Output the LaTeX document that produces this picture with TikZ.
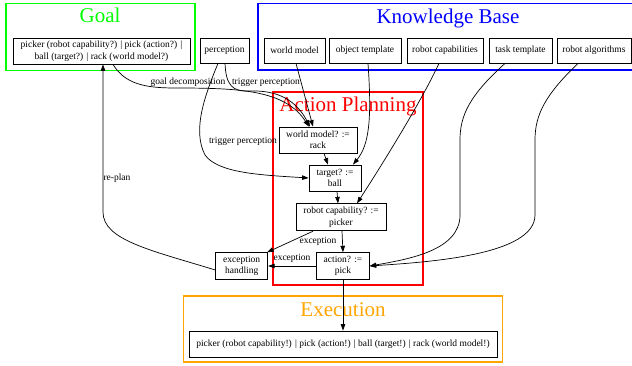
\documentclass[tikz,border=0pt]{standalone}
\usepackage{fontspec}
\setmainfont{Liberation Serif}
\usetikzlibrary{arrows.meta}

\definecolor{goalgreen}{RGB}{0,255,0}
\definecolor{kbblue}{RGB}{0,0,255}
\definecolor{apred}{RGB}{255,0,0}
\definecolor{exorange}{RGB}{255,165,0}

\tikzset{
  box/.style={draw,line width=0.8pt,inner sep=0pt,align=center,
    font=\fontsize{9.5}{11.5}\selectfont},
  lbl/.style={inner sep=0pt,anchor=base,font=\fontsize{9.5}{11.5}\selectfont},
  title/.style={inner sep=0pt,anchor=base,font=\fontsize{21}{24}\selectfont},
  cluster/.style={line width=1.5pt},
  edge/.style={line width=0.7pt,-{Triangle[length=6.5pt,width=4.5pt]}}
}

\begin{document}
\begin{tikzpicture}[x=1pt,y=-1pt]
\useasboundingbox (0,0) rectangle (632,366);

% clusters
\draw[goalgreen,cluster] (6,3.5) rectangle (195,70.5);
\node[title,text=goalgreen] (goaltitle) at (100,23) {Goal};
\draw[kbblue,cluster] (258,3.5) rectangle (635,70);
\node[title,text=kbblue] (kbtitle) at (448,23.3) {Knowledge Base};
\draw[apred,cluster] (273,92) rectangle (423,285);
\node[title,text=apred] (aptitle) at (348,111.7) {Action Planning};
\draw[exorange,cluster] (183.3,296) rectangle (502.7,362);
\node[title,text=exorange] (extitle) at (343,316.7) {Execution};

% top row
\node[box,minimum width=177,minimum height=26] (goal) at (101.5,51)
  {picker (robot capability?) | pick (action?) |\\ball (target?) | rack (world model?)};
\node[box,minimum width=49,minimum height=25] (percep) at (224.5,50.5) {perception};
\node[box,minimum width=61,minimum height=25] (wm) at (294.5,50.5) {world model};
\node[box,minimum width=72,minimum height=25] (ot) at (365,50.5) {object template};
\node[box,minimum width=76,minimum height=25] (rc) at (445,50.5) {robot capabilities};
\node[box,minimum width=63,minimum height=25] (tt) at (520.5,50.5) {task template};
\node[box,minimum width=74,minimum height=25] (ra) at (594,50.5) {robot algorithms};

% planning steps
\node[box,minimum width=78,minimum height=26] (wmq) at (318,140) {world model? :=\\rack};
\node[box,minimum width=52,minimum height=26] (tq) at (335,178) {target? :=\\ball};
\node[box,minimum width=90,minimum height=27] (rcq) at (341,217.3) {robot capability? :=\\picker};
\node[box,minimum width=52.6,minimum height=26.6] (aq) at (343,266) {action? :=\\pick};
\node[box,minimum width=52,minimum height=26.6] (eh) at (241.7,266) {exception\\handling};
\node[box,minimum width=308,minimum height=26] (exec) at (343,344)
  {picker (robot capability!) | pick (action!) | ball (target!) | rack (world model!)};

% edges into world model?
\draw[edge] ([xshift=11.5pt]goal.south) .. controls (125,84) and (145,88) .. (175,88)
  .. controls (240,88) and (285,90) .. ([xshift=-9pt]wmq.north);
\draw[edge] ([xshift=0.5pt]percep.south) .. controls (226,85) and (232,92) .. (250,91)
  .. controls (280,90) and (297,102) .. ([xshift=-8pt]wmq.north);
\draw[edge] ([xshift=1.5pt]wm.south) -- ([xshift=-5pt]wmq.north);
\node[lbl] (lgoaldec) at (188,84.5) {goal decomposition};
\node[lbl] (ltrig1) at (266,84.5) {trigger perception};

% edges into target?
\draw[edge] ([xshift=-6.5pt]percep.south) .. controls (205,95) and (192,130) .. (205,155)
  .. controls (218,173) and (260,175) .. (tq.west);
\node[lbl] (ltrig2) at (243,143.5) {trigger perception};
\draw[edge] ([xshift=3pt]ot.south) .. controls (372,120) and (369,145) .. ([xshift=18pt]tq.north);
\draw[edge] ([xshift=6pt]wmq.south) -- ([xshift=-7pt]tq.north);

% edges into robot capability?
\draw[edge] ([xshift=2pt]tq.south) -- ([xshift=-3pt]rcq.north);
\draw[edge] ([xshift=-6pt]rc.south) .. controls (422,100) and (385,160) .. ([xshift=16pt]rcq.north);

% edges into action?
\draw[edge] ([xshift=1pt]rcq.south) -- (aq.north);
\draw[edge] ([xshift=-15.5pt]tt.south) .. controls (470,95) and (460,115) .. (460,140)
  -- (460,215) .. controls (460,250) and (410,259) .. (aq.east);
\draw[edge] ([xshift=-16pt]ra.south) .. controls (545,95) and (535,115) .. (535,140)
  -- (535,215) .. controls (535,255) and (430,262) .. (aq.east);

% exceptions and re-plan
\draw[edge] ([xshift=-28pt]rcq.south) -- ([xshift=-1pt]eh.north east);
\node[lbl] (lexc1) at (318,243.5) {exception};
\draw[edge] (aq.west) -- (eh.east);
\node[lbl] (lexc2) at (292,261) {exception};
\draw[edge] ([yshift=-4pt]eh.west) .. controls (150,250) and (103,240) .. (103,212)
  -- ([xshift=1.5pt]goal.south);
\node[lbl] (lreplan) at (117,181) {re-plan};

% execution
\draw[edge] (aq.south) -- (exec.north);
\end{tikzpicture}
\end{document}
